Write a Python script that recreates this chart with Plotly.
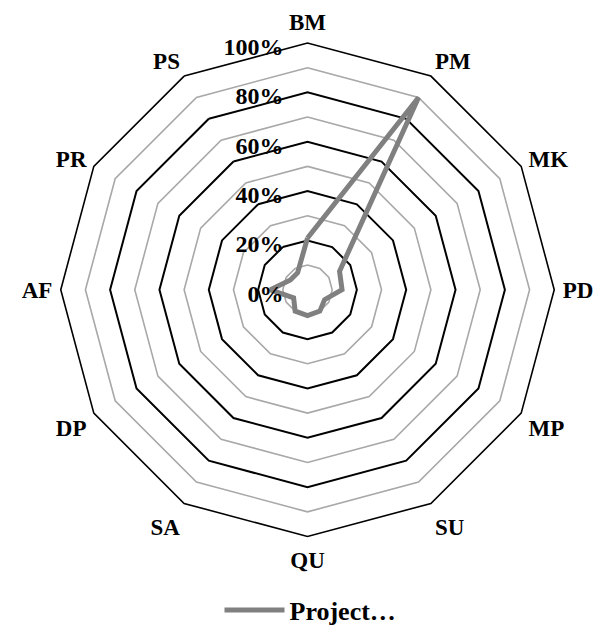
import plotly.graph_objects as go

categories = ["BM", "PM", "MK", "PD", "MP", "SU", "QU", "SA", "DP", "AF", "PR", "PS"]
project_values = [21, 90, 15, 14, 8, 10, 10.5, 10, 6.5, 15, 8, 8]
series_name = "Project…"
major_ticks = [0, 20, 40, 60, 80, 100]
minor_rings = [10, 30, 50, 70, 90]

theta_closed = categories + categories[:1]

W, H = 605, 634

fig = go.Figure()

# minor (gray) grid rings
for ring in minor_rings:
    fig.add_trace(go.Scatterpolar(
        r=[ring] * len(theta_closed), theta=theta_closed, mode="lines",
        line=dict(color="#a8a8a8", width=1.6), hoverinfo="skip", showlegend=False,
    ))

fig.add_trace(go.Scatterpolar(
    r=project_values + project_values[:1], theta=theta_closed, mode="lines",
    name=series_name, line=dict(color="#808080", width=5),
))

fig.update_layout(
    width=W, height=H,
    margin=dict(l=0, r=0, t=0, b=0),
    paper_bgcolor="white",
    font=dict(family="Liberation Serif", size=24, color="black", weight="bold"),
    polar=dict(
        domain=dict(x=[58 / W, 557 / W], y=[91.5 / H, 590.5 / H]),
        bgcolor="white",
        gridshape="linear",
        radialaxis=dict(
            range=[0, 100], tickvals=major_ticks, ticktext=[f"{v}%" for v in major_ticks],
            angle=90, side="counterclockwise",
            showline=False, gridcolor="black", gridwidth=1.6,
            ticks="outside", ticklen=2, tickcolor="rgba(0,0,0,0)",
            tickfont=dict(size=24, family="Liberation Serif", color="black", weight="bold"),
        ),
        angularaxis=dict(
            categoryarray=categories, categoryorder="array",
            rotation=90, direction="clockwise",
            showgrid=False, showline=True, linecolor="black", linewidth=1.6,
            ticks="outside", ticklen=3, tickcolor="rgba(0,0,0,0)",
            tickfont=dict(size=23, family="Liberation Serif", color="black", weight="bold"),
        ),
    ),
    showlegend=True,
    legend=dict(
        orientation="h", x=0.5 + 8 / W, xanchor="center", y=17 / H, yanchor="middle",
        itemwidth=60,
        font=dict(size=26, family="Liberation Serif", color="black", weight="bold"),
        bgcolor="rgba(0,0,0,0)",
    ),
)

fig.write_html(
    "out.html",
    config={"displayModeBar": False},
    post_script="document.body.style.margin='0';document.body.style.padding='0';",
)
